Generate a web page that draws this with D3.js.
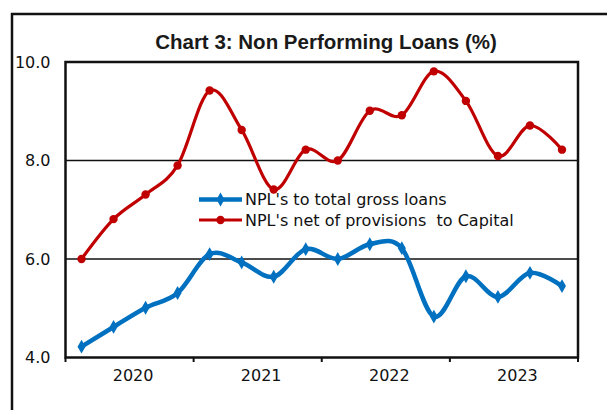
<!DOCTYPE html>
<html>
<head>
<meta charset="utf-8">
<script src="https://cdn.jsdelivr.net/npm/d3@7"></script>
<style>
  html, body { margin: 0; padding: 0; background: #fff; }
  svg { display: block; }
  text { white-space: pre; }
</style>
</head>
<body>
<svg id="chart" width="607" height="410"></svg>
<script>
// ---- data ----
const quarters = ["2020Q1","2020Q2","2020Q3","2020Q4","2021Q1","2021Q2","2021Q3","2021Q4",
                  "2022Q1","2022Q2","2022Q3","2022Q4","2023Q1","2023Q2","2023Q3","2023Q4"];
const years = ["2020","2021","2022","2023"];
const nplGross = [4.22,4.62,5.01,5.31,6.10,5.93,5.64,6.20,6.00,6.30,6.22,4.83,5.65,5.23,5.72,5.45];
const nplNetCapital = [6.00,6.81,7.31,7.90,9.42,8.62,7.41,8.22,8.00,9.01,8.92,9.81,9.21,8.09,8.71,8.22];
const yTicks = [4, 6, 8, 10];
const seriesNames = ["NPL's to total gross loans", "NPL's net of provisions  to Capital"];
const titleText = "Chart 3: Non Performing Loans (%)";

// ---- layout ----
const svg = d3.select("#chart");
const L = 65.5, R = 578, T = 62, B = 357.5;
const blue = "#0070C0", red = "#C00000", ink = "#111";

// outer border (extends past right/bottom edges)
svg.append("rect").attr("x", 12).attr("y", 14).attr("width", 640).attr("height", 450)
  .attr("fill", "none").attr("stroke", ink).attr("stroke-width", 2.5);

const x = d3.scaleBand().domain(quarters).range([L, R]).paddingInner(0).paddingOuter(0);
const xYear = d3.scaleBand().domain(years).range([L, R]);
const y = d3.scaleLinear().domain([4, 10]).range([B, T]);

// title
svg.append("text").attr("x", 326).attr("y", 49).attr("text-anchor", "middle")
  .attr("font-family", "Liberation Sans, Arial, sans-serif").attr("font-weight", "bold")
  .attr("font-size", "20.5px").attr("fill", "#1a1a1a").text(titleText);

// gridlines
svg.append("g").selectAll("line").data(yTicks.filter(v => v > 4 && v < 10)).join("line")
  .attr("x1", L).attr("x2", R).attr("y1", d => y(d)).attr("y2", d => y(d))
  .attr("stroke", ink).attr("stroke-width", 1.5);

// y labels
const yAxis = d3.axisLeft(y).tickValues(yTicks).tickSize(0).tickPadding(15)
  .tickFormat(d3.format(".1f"));
const gy = svg.append("g").attr("transform", `translate(${L},0)`).call(yAxis);
gy.select(".domain").remove();
gy.selectAll("text").attr("font-family", "DejaVu Sans, sans-serif").attr("font-size", "16px")
  .attr("fill", "#111");

// x axis ticks at year boundaries
const boundaries = years.map(yr => xYear(yr)).concat([R]);
svg.append("g").selectAll("line").data(boundaries).join("line")
  .attr("x1", d => d).attr("x2", d => d).attr("y1", B).attr("y2", B + 4.5)
  .attr("stroke", ink).attr("stroke-width", 2);
svg.append("g").selectAll("text").data(years).join("text")
  .attr("x", d => xYear(d) + xYear.bandwidth() / 2 + 3.5).attr("y", 381)
  .attr("text-anchor", "middle").attr("font-family", "DejaVu Sans, sans-serif")
  .attr("font-size", "16px").attr("fill", "#111").text(d => d);

// plot border
svg.append("rect").attr("x", L).attr("y", T).attr("width", R - L).attr("height", B - T)
  .attr("fill", "none").attr("stroke", ink).attr("stroke-width", 2.5);

// lines
const cx = (d, i) => x(quarters[i]) + x.bandwidth() / 2;
const line = d3.line().x(cx).y(d => y(d)).curve(d3.curveCardinal.tension(0));

svg.append("path").datum(nplNetCapital).attr("d", line).attr("fill", "none")
  .attr("stroke", red).attr("stroke-width", 3.2);
svg.append("g").selectAll("circle").data(nplNetCapital).join("circle")
  .attr("cx", cx).attr("cy", d => y(d)).attr("r", 4.2).attr("fill", red);

svg.append("path").datum(nplGross).attr("d", line).attr("fill", "none")
  .attr("stroke", blue).attr("stroke-width", 4.5);
const diamond = d3.symbol().type(d3.symbolDiamond).size(55);
svg.append("g").selectAll("path").data(nplGross).join("path")
  .attr("d", diamond).attr("transform", (d, i) => `translate(${cx(d, i)},${y(d)})`)
  .attr("fill", blue);

// legend
const legend = svg.append("g");
const legendRows = [
  { name: seriesNames[0], color: blue, w: 4.5, marker: "diamond", yy: 199.5 },
  { name: seriesNames[1], color: red, w: 3.2, marker: "circle", yy: 220 }
];
legendRows.forEach(r => {
  legend.append("line").attr("x1", 199).attr("x2", 242).attr("y1", r.yy).attr("y2", r.yy)
    .attr("stroke", r.color).attr("stroke-width", r.w);
  if (r.marker === "diamond") {
    legend.append("path").attr("d", diamond).attr("transform", `translate(220.5,${r.yy})`)
      .attr("fill", r.color);
  } else {
    legend.append("circle").attr("cx", 220.5).attr("cy", r.yy).attr("r", 4.2).attr("fill", r.color);
  }
  legend.append("text").attr("x", 245).attr("y", r.yy + 5.8)
    .attr("xml:space", "preserve")
    .attr("font-family", "DejaVu Sans, sans-serif").attr("font-size", "16px")
    .attr("fill", "#111").text(r.name);
});
</script>
</body>
</html>
